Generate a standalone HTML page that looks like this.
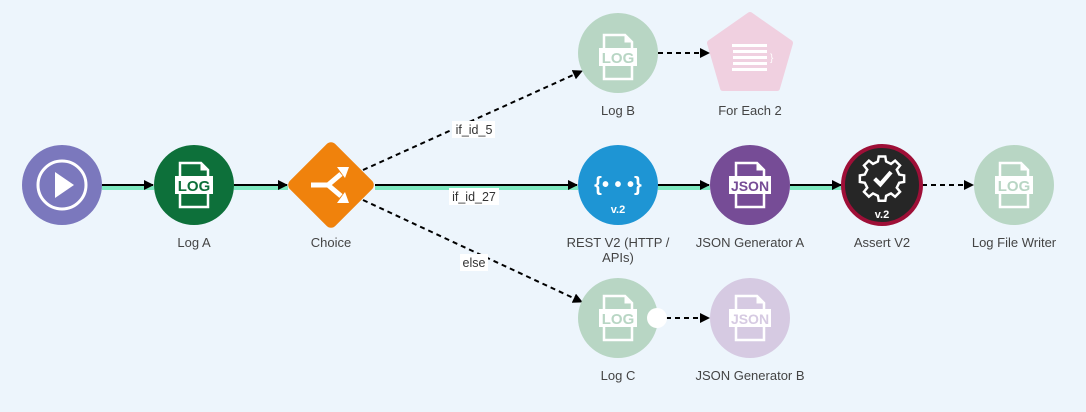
<!DOCTYPE html>
<html><head><meta charset="utf-8"><style>
body{margin:0;background:#edf5fc;}
svg{display:block;font-family:"Liberation Sans",sans-serif;}
.lbl{font-size:13px;fill:#444;text-anchor:middle;}
.el{font-size:12.5px;fill:#333;text-anchor:middle;}
</style></head><body>
<svg width="1086" height="412" viewBox="0 0 1086 412">
<defs>
<marker id="ah" markerWidth="10" markerHeight="10" refX="9" refY="5" orient="auto" markerUnits="userSpaceOnUse"><path d="M0,0 L10,5 L0,10 z" fill="#000"/></marker>
<g id="file"><path d="M-14,-22 H7 L14,-15 V22 H-14 Z" fill="none" stroke="#fff" stroke-width="2.5"/><path d="M7,-22 V-15 H14" fill="#fff" stroke="#fff" stroke-width="1"/></g>
</defs>
<rect width="1086" height="412" fill="#edf5fc"/>
<g stroke="#7de8c0" stroke-width="4">
<line x1="102" y1="188" x2="154" y2="188"/><line x1="234" y1="188" x2="288" y2="188"/>
<line x1="375" y1="188" x2="578" y2="188"/><line x1="658" y1="188" x2="710" y2="188"/>
<line x1="790" y1="188" x2="842" y2="188"/>
</g>
<g stroke="#000" stroke-width="2" fill="none">
<line x1="102" y1="185" x2="153" y2="185" marker-end="url(#ah)"/>
<line x1="234" y1="185" x2="287" y2="185" marker-end="url(#ah)"/>
<line x1="375" y1="185" x2="577" y2="185" marker-end="url(#ah)"/>
<line x1="658" y1="185" x2="709" y2="185" marker-end="url(#ah)"/>
<line x1="790" y1="185" x2="841" y2="185" marker-end="url(#ah)"/>
</g>
<g stroke="#000" stroke-width="2" fill="none" stroke-dasharray="5,4">
<line x1="363" y1="170" x2="582" y2="71" marker-end="url(#ah)"/>
<line x1="363" y1="200" x2="582" y2="302" marker-end="url(#ah)"/>
<line x1="658" y1="53" x2="709" y2="53" marker-end="url(#ah)"/>
<line x1="922" y1="185" x2="973" y2="185" marker-end="url(#ah)"/>
<line x1="666" y1="318" x2="709" y2="318" marker-end="url(#ah)"/>
</g>
<rect x="452" y="121" width="43" height="17" fill="#fff"/><text class="el" x="474" y="134">if_id_5</text>
<rect x="449" y="188" width="50" height="17" fill="#fff"/><text class="el" x="474" y="201">if_id_27</text>
<rect x="460" y="254" width="28" height="17" fill="#fff"/><text class="el" x="474" y="267">else</text>
<circle cx="62" cy="185" r="40" fill="#7b78bd"/>
<circle cx="62" cy="185" r="24" fill="none" stroke="#fff" stroke-width="3"/>
<path d="M55,172 L74,185 L55,198 Z" fill="#fff"/>
<circle cx="194" cy="185" r="40" fill="#0d703a"/>
<use href="#file" x="194" y="185"/>
<rect x="175" y="176" width="38" height="18" fill="#fff"/>
<text x="194" y="191" font-size="15" font-weight="bold" fill="#0d703a" text-anchor="middle">LOG</text>
<text class="lbl" x="194" y="247">Log A</text>
<rect x="299" y="153" width="64" height="64" rx="6" fill="#f0820c" transform="rotate(45 331 185)"/>
<path d="M311,185 H328 L341,174 M328,185 L341,196" stroke="#fff" stroke-width="5" fill="none"/>
<path d="M349,167 L337,167 L345,178 Z M349,203 L337,203 L345,192 Z" fill="#fff"/>
<text class="lbl" x="331" y="247">Choice</text>
<circle cx="618" cy="185" r="40" fill="#1e95d4"/>
<text x="618" y="191" font-size="20" font-weight="bold" fill="#fff" text-anchor="middle">{• • •}</text>
<text x="618" y="213" font-size="11" font-weight="bold" fill="#fff" text-anchor="middle">v.2</text>
<text class="lbl" x="618" y="247">REST V2 (HTTP /</text><text class="lbl" x="618" y="262">APIs)</text>
<circle cx="750" cy="185" r="40" fill="#764c96"/>
<use href="#file" x="750" y="185"/>
<rect x="729" y="176" width="42" height="18" fill="#fff"/>
<text x="750" y="191" font-size="14" font-weight="bold" fill="#764c96" text-anchor="middle">JSON</text>
<text class="lbl" x="750" y="247">JSON Generator A</text>
<circle cx="882" cy="185" r="39" fill="#262626" stroke="#9e0f37" stroke-width="4"/>
<g transform="translate(882,177) scale(0.82)">
<path d="M-4,-25 H4 L5,-19 L11,-16 L16,-20 L22,-14 L18,-9 L21,-3 L27,-2 V6 L21,7 L18,13 L22,18 L16,24 L11,20 L5,23 L4,29 H-4 L-5,23 L-11,20 L-16,24 L-22,18 L-18,13 L-21,7 L-27,6 V-2 L-21,-3 L-18,-9 L-22,-14 L-16,-20 L-11,-16 L-5,-19 Z" fill="none" stroke="#fff" stroke-width="3"/>
<path d="M-9,2 L-2,9 L11,-6" stroke="#fff" stroke-width="5" fill="none"/>
</g>
<text x="882" y="218" font-size="11" font-weight="bold" fill="#fff" text-anchor="middle">v.2</text>
<text class="lbl" x="882" y="247">Assert V2</text>
<circle cx="1014" cy="185" r="40" fill="#b8d6c4"/>
<use href="#file" x="1014" y="185"/>
<rect x="995" y="176" width="38" height="18" fill="#fff"/>
<text x="1014" y="191" font-size="15" font-weight="bold" fill="#b8d6c4" text-anchor="middle">LOG</text>
<text class="lbl" x="1014" y="247">Log File Writer</text>
<circle cx="618" cy="53" r="40" fill="#b8d6c4"/>
<use href="#file" x="618" y="57"/>
<rect x="599" y="48" width="38" height="18" fill="#fff"/>
<text x="618" y="63" font-size="15" font-weight="bold" fill="#b8d6c4" text-anchor="middle">LOG</text>
<text class="lbl" x="618" y="115">Log B</text>
<path d="M750,15 L790,43 L777,88 L723,88 L710,43 Z" fill="#f0d0e0" stroke="#f0d0e0" stroke-width="6" stroke-linejoin="round"/>
<g fill="#fff"><rect x="732" y="44" width="35" height="3"/><rect x="733" y="50" width="34" height="3"/><rect x="733" y="56" width="34" height="3"/><rect x="733" y="62" width="34" height="3"/><rect x="732" y="68" width="35" height="3"/></g>
<text x="770" y="61" font-size="10" fill="#fff">}</text>
<text class="lbl" x="750" y="115">For Each 2</text>
<circle cx="618" cy="318" r="40" fill="#b8d6c4"/>
<use href="#file" x="618" y="318"/>
<rect x="599" y="309" width="38" height="18" fill="#fff"/>
<text x="618" y="324" font-size="15" font-weight="bold" fill="#b8d6c4" text-anchor="middle">LOG</text>
<circle cx="657" cy="318" r="10" fill="#fff"/>
<text class="lbl" x="618" y="380">Log C</text>
<circle cx="750" cy="318" r="40" fill="#d6cae2"/>
<use href="#file" x="750" y="318"/>
<rect x="729" y="309" width="42" height="18" fill="#fff"/>
<text x="750" y="324" font-size="14" font-weight="bold" fill="#d6cae2" text-anchor="middle">JSON</text>
<text class="lbl" x="750" y="380">JSON Generator B</text>
</svg>
</body></html>
